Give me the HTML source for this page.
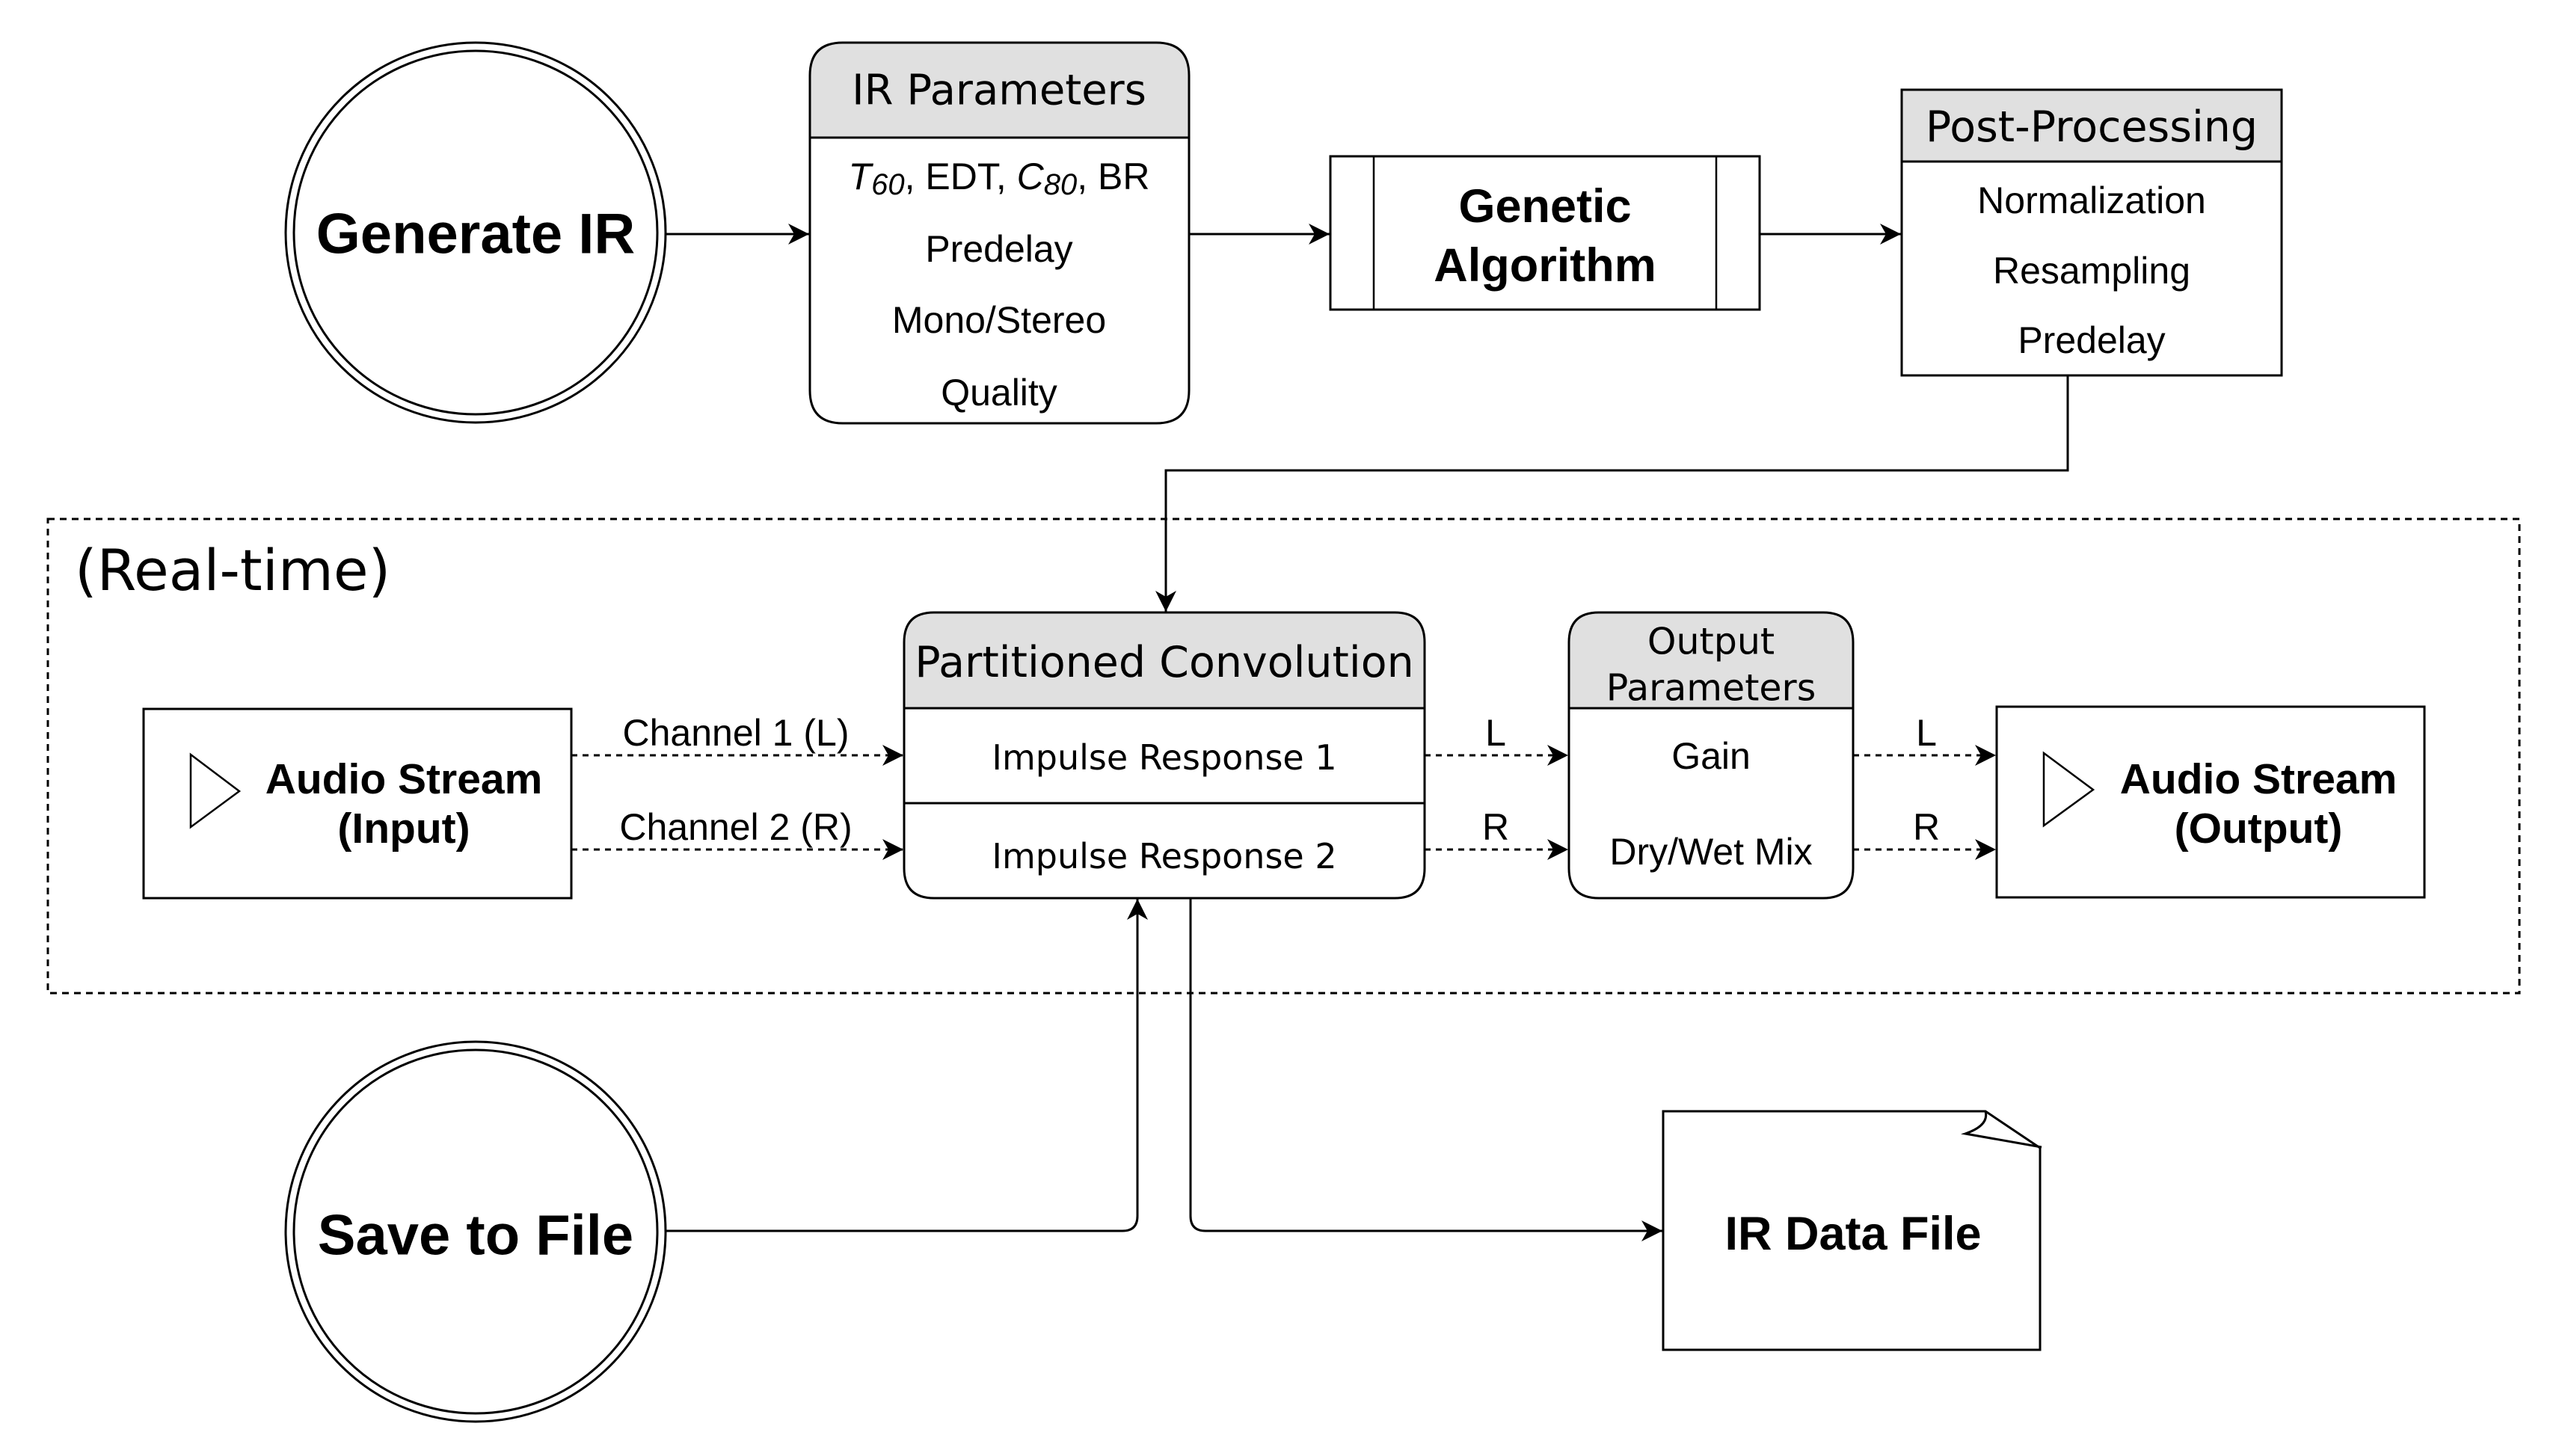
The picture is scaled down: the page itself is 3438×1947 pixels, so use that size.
<!DOCTYPE html>
<html><head><meta charset="utf-8"><style>
html,body{margin:0;padding:0;background:#fff;}
svg{display:block;}
.b{font-family:"Liberation Sans",sans-serif;font-weight:bold;}
.n{font-family:"Liberation Sans",sans-serif;}
.d{font-family:"DejaVu Sans",sans-serif;}
</style></head><body>
<svg width="3438" height="1947" viewBox="0 0 3438 1947" xmlns="http://www.w3.org/2000/svg">
<defs>
<marker id="a" markerWidth="32" markerHeight="32" refX="30" refY="16" orient="auto" markerUnits="userSpaceOnUse">
<path d="M2,2 L30,16 L2,30 L10,16 Z" fill="#000"/>
</marker>
</defs>
<g fill="none" stroke="#000" stroke-width="3">
<circle cx="636" cy="311" r="254"/>
<circle cx="636" cy="311" r="243"/>
<circle cx="636" cy="1647" r="254"/>
<circle cx="636" cy="1647" r="243"/>
<rect x="64" y="694" width="3305" height="634" stroke-dasharray="9 7"/>
</g>
<path d="M1083,184 V101 Q1083,57 1127,57 H1546 Q1590,57 1590,101 V184 Z" fill="#e0e0e0" stroke="#000" stroke-width="3"/>
<path d="M1083,184 V522 Q1083,566 1127,566 H1546 Q1590,566 1590,522 V184 Z" fill="#fff" stroke="#000" stroke-width="3"/>
<rect x="1779" y="209" width="574" height="205" fill="#fff" stroke="#000" stroke-width="3"/>
<line x1="1837" y1="209" x2="1837" y2="414" stroke="#000" stroke-width="2.5"/>
<line x1="2295" y1="209" x2="2295" y2="414" stroke="#000" stroke-width="2.5"/>
<rect x="2543" y="120" width="508" height="96" fill="#e0e0e0" stroke="#000" stroke-width="3"/>
<rect x="2543" y="216" width="508" height="286" fill="#fff" stroke="#000" stroke-width="3"/>
<path d="M1209,947 V859 Q1209,819 1249,819 H1865 Q1905,819 1905,859 V947 Z" fill="#e0e0e0" stroke="#000" stroke-width="3"/>
<path d="M1209,947 V1161 Q1209,1201 1249,1201 H1865 Q1905,1201 1905,1161 V947 Z" fill="#fff" stroke="#000" stroke-width="3"/>
<line x1="1209" y1="1074" x2="1905" y2="1074" stroke="#000" stroke-width="3"/>
<path d="M2098,947 V859 Q2098,819 2138,819 H2438 Q2478,819 2478,859 V947 Z" fill="#e0e0e0" stroke="#000" stroke-width="3"/>
<path d="M2098,947 V1161 Q2098,1201 2138,1201 H2438 Q2478,1201 2478,1161 V947 Z" fill="#fff" stroke="#000" stroke-width="3"/>
<rect x="192" y="948" width="572" height="253" fill="#fff" stroke="#000" stroke-width="3"/>
<path d="M255,1009 L320,1058 L255,1106 Z" fill="none" stroke="#000" stroke-width="2.5"/>
<rect x="2670" y="945" width="572" height="255" fill="#fff" stroke="#000" stroke-width="3"/>
<path d="M2733,1007 L2799,1056 L2733,1104 Z" fill="none" stroke="#000" stroke-width="2.5"/>
<path d="M2224,1486 H2655 L2728,1535 V1805 H2224 Z" fill="#fff" stroke="#000" stroke-width="3"/>
<path d="M2655,1486 Q2660,1505 2628,1516 L2730,1534" fill="none" stroke="#000" stroke-width="3"/>
<g fill="none" stroke="#000" stroke-width="3">
<line x1="890" y1="313" x2="1082" y2="313" marker-end="url(#a)"/>
<line x1="1590" y1="313" x2="1778" y2="313" marker-end="url(#a)"/>
<line x1="2353" y1="313" x2="2542" y2="313" marker-end="url(#a)"/>
<path d="M2765,502 V629 H1559 V818" marker-end="url(#a)"/>
<path d="M890,1646 H1501 Q1521,1646 1521,1626 V1202" marker-end="url(#a)"/>
<path d="M1592,1201 V1626 Q1592,1646 1612,1646 H2223" marker-end="url(#a)"/>
<g stroke-dasharray="8 7">
<line x1="764" y1="1010" x2="1208" y2="1010" marker-end="url(#a)"/>
<line x1="764" y1="1136" x2="1208" y2="1136" marker-end="url(#a)"/>
<line x1="1905" y1="1010" x2="2097" y2="1010" marker-end="url(#a)"/>
<line x1="1905" y1="1136" x2="2097" y2="1136" marker-end="url(#a)"/>
<line x1="2478" y1="1010" x2="2669" y2="1010" marker-end="url(#a)"/>
<line x1="2478" y1="1136" x2="2669" y2="1136" marker-end="url(#a)"/>
</g>
</g>
<g text-anchor="middle" dominant-baseline="central" fill="#000">
<text x="636" y="313" class="b" font-size="76">Generate IR</text>
<text x="636" y="1652" class="b" font-size="76">Save to File</text>
<text x="1336" y="121" class="d" font-size="56">IR Parameters</text>
<text x="1336" y="236" class="n" font-size="50"><tspan font-style="italic">T</tspan><tspan font-style="italic" font-size="40" dy="11">60</tspan><tspan dy="-11">, EDT, </tspan><tspan font-style="italic">C</tspan><tspan font-style="italic" font-size="40" dy="11">80</tspan><tspan dy="-11">, BR</tspan></text>
<text x="1336" y="333" class="n" font-size="50">Predelay</text>
<text x="1336" y="428" class="n" font-size="50">Mono/Stereo</text>
<text x="1336" y="525" class="n" font-size="50">Quality</text>
<text x="2066" y="276" class="b" font-size="63">Genetic</text>
<text x="2066" y="355" class="b" font-size="63">Algorithm</text>
<text x="2797" y="170" class="d" font-size="57">Post-Processing</text>
<text x="2797" y="268" class="n" font-size="50">Normalization</text>
<text x="2797" y="362" class="n" font-size="50">Resampling</text>
<text x="2797" y="455" class="n" font-size="50">Predelay</text>
<text x="1557" y="886" class="d" font-size="57">Partitioned Convolution</text>
<text x="1557" y="1013" class="d" font-size="46">Impulse Response 1</text>
<text x="1557" y="1145" class="d" font-size="46">Impulse Response 2</text>
<text x="2288" y="858" class="d" font-size="49">Output</text>
<text x="2288" y="920" class="d" font-size="49">Parameters</text>
<text x="2288" y="1011" class="n" font-size="50">Gain</text>
<text x="2288" y="1139" class="n" font-size="50">Dry/Wet Mix</text>
<text x="540" y="1042" class="b" font-size="57">Audio Stream</text>
<text x="540" y="1108" class="b" font-size="57">(Input)</text>
<text x="3020" y="1042" class="b" font-size="57">Audio Stream</text>
<text x="3020" y="1108" class="b" font-size="57">(Output)</text>
<text x="984" y="980" class="n" font-size="50">Channel 1 (L)</text>
<text x="984" y="1106" class="n" font-size="50">Channel 2 (R)</text>
<text x="2000" y="980" class="n" font-size="50">L</text>
<text x="2000" y="1106" class="n" font-size="50">R</text>
<text x="2576" y="980" class="n" font-size="50">L</text>
<text x="2576" y="1106" class="n" font-size="50">R</text>
<text x="2478" y="1650" class="b" font-size="63">IR Data File</text>
</g>
<text x="100" y="789" class="d" font-size="76" fill="#000">(Real-time)</text>
</svg>
</body></html>
